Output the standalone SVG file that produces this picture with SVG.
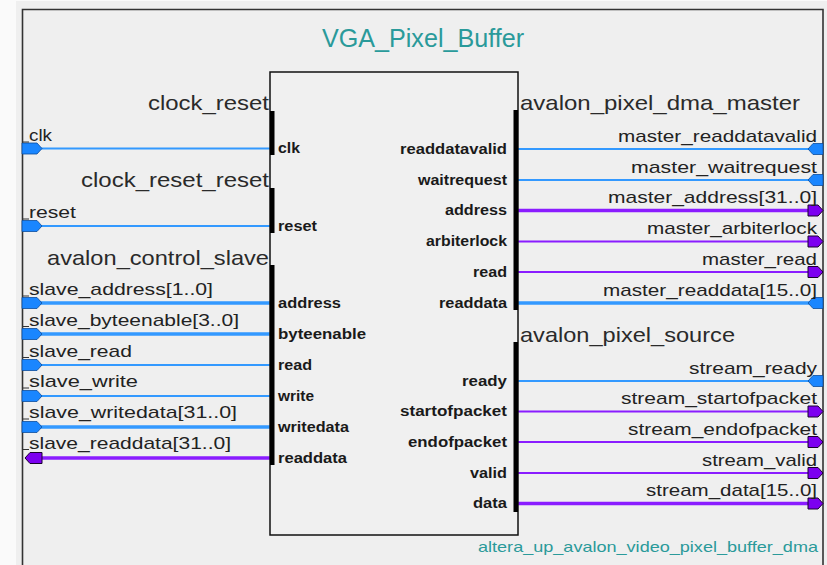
<svg xmlns="http://www.w3.org/2000/svg" width="827" height="565" viewBox="0 0 827 565">
<style>
.hdr{font-family:"Liberation Sans",Arial,sans-serif;font-size:21px;fill:#2a2a2a}
.sig{font-family:"Liberation Sans",Arial,sans-serif;font-size:17px;fill:#222}
.inl{font-family:"Liberation Sans",Arial,sans-serif;font-size:14.5px;font-weight:bold;fill:#1a1a1a}
.teal{font-family:"Liberation Sans",Arial,sans-serif;fill:#2a9a9a}
.wb{stroke:#3399ff;stroke-width:2;fill:none}
.wbb{stroke:#3399ff;stroke-width:3.5;fill:none}
.wp{stroke:#8a1cff;stroke-width:2;fill:none}
.wpb{stroke:#8a1cff;stroke-width:3.5;fill:none}
.mb{fill:#1a86ff;stroke:#0b4c9c;stroke-width:0.8}
.mp{fill:#7c00f0;stroke:#1a0030;stroke-width:1}
.bar{fill:#000}
.tick{stroke:#333;stroke-width:1}
</style>
<defs>
<path id="lin" d="M22,-5.5 H37 L42,0 L37,5.5 H22 Z"/>
<path id="lout" d="M42,-5.5 H30 L25,0 L30,5.5 H42 Z"/>
<path id="rin" d="M823,-5.5 H813 L808,0 L813,5.5 H823 Z"/>
<path id="rout" d="M808,-5.5 H818 L823,0 L818,5.5 H808 Z"/>
</defs>
<rect x="0" y="0" width="827" height="565" fill="#fafafa"/>
<rect x="16" y="1" width="811" height="564" fill="#efefef"/>
<path d="M22.5,566 V9.5 H823 V566" fill="none" stroke="#333" stroke-width="1.6"/>

<g id="title">
<text class="teal" x="423" y="47" font-size="25" text-anchor="middle" textLength="202" lengthAdjust="spacingAndGlyphs">VGA_Pixel_Buffer</text>
<text class="teal" x="818" y="552" font-size="15" text-anchor="end" textLength="340" lengthAdjust="spacingAndGlyphs">altera_up_avalon_video_pixel_buffer_dma</text>
</g>

<g id="connectors">
<line class="wb" x1="40" y1="148.5" x2="270" y2="148.5"/>
<line class="wb" x1="40" y1="226" x2="270" y2="226"/>
<line class="wbb" x1="40" y1="303" x2="270" y2="303"/>
<line class="wbb" x1="40" y1="334" x2="270" y2="334"/>
<line class="wb" x1="40" y1="365" x2="270" y2="365"/>
<line class="wb" x1="40" y1="396" x2="270" y2="396"/>
<line class="wbb" x1="40" y1="427" x2="270" y2="427"/>
<line class="wpb" x1="40" y1="458" x2="270" y2="458"/>
<line class="wb" x1="518" y1="149" x2="810" y2="149"/>
<line class="wb" x1="518" y1="180" x2="810" y2="180"/>
<line class="wpb" x1="518" y1="210.5" x2="810" y2="210.5"/>
<line class="wp" x1="518" y1="241.5" x2="810" y2="241.5"/>
<line class="wp" x1="518" y1="272" x2="810" y2="272"/>
<line class="wbb" x1="518" y1="303" x2="810" y2="303"/>
<line class="wb" x1="518" y1="381" x2="810" y2="381"/>
<line class="wp" x1="518" y1="411.5" x2="810" y2="411.5"/>
<line class="wp" x1="518" y1="442" x2="810" y2="442"/>
<line class="wp" x1="518" y1="473" x2="810" y2="473"/>
<line class="wpb" x1="518" y1="503.5" x2="810" y2="503.5"/>
</g>

<g id="ports">
<use href="#lin" class="mb" transform="translate(0,148.5)"/>
<use href="#lin" class="mb" transform="translate(0,226)"/>
<use href="#lin" class="mb" transform="translate(0,303)"/>
<use href="#lin" class="mb" transform="translate(0,334)"/>
<use href="#lin" class="mb" transform="translate(0,365)"/>
<use href="#lin" class="mb" transform="translate(0,396)"/>
<use href="#lin" class="mb" transform="translate(0,427)"/>
<use href="#lout" class="mp" transform="translate(0,458)"/>
<use href="#rin" class="mb" transform="translate(0,149)"/>
<use href="#rin" class="mb" transform="translate(0,180)"/>
<use href="#rout" class="mp" transform="translate(0,210.5)"/>
<use href="#rout" class="mp" transform="translate(0,241.5)"/>
<use href="#rout" class="mp" transform="translate(0,272)"/>
<use href="#rin" class="mb" transform="translate(0,303)"/>
<use href="#rin" class="mb" transform="translate(0,381)"/>
<use href="#rout" class="mp" transform="translate(0,411.5)"/>
<use href="#rout" class="mp" transform="translate(0,442)"/>
<use href="#rout" class="mp" transform="translate(0,473)"/>
<use href="#rout" class="mp" transform="translate(0,503.5)"/>
<g class="tick">
<line x1="22" y1="142" x2="29" y2="142"/>
<line x1="22" y1="219" x2="29" y2="219"/>
<line x1="22" y1="296" x2="29" y2="296"/>
<line x1="22" y1="326.5" x2="29" y2="326.5"/>
<line x1="22" y1="357.5" x2="29" y2="357.5"/>
<line x1="22" y1="388" x2="29" y2="388"/>
<line x1="22" y1="419" x2="29" y2="419"/>
<line x1="22" y1="449.5" x2="29" y2="449.5"/>
</g>
<g class="sig">
<text x="29" y="141" textLength="23" lengthAdjust="spacingAndGlyphs">clk</text>
<text x="29" y="218" textLength="47" lengthAdjust="spacingAndGlyphs">reset</text>
<text x="29" y="295" textLength="184" lengthAdjust="spacingAndGlyphs">slave_address[1..0]</text>
<text x="29" y="325.5" textLength="210" lengthAdjust="spacingAndGlyphs">slave_byteenable[3..0]</text>
<text x="29" y="356.5" textLength="103" lengthAdjust="spacingAndGlyphs">slave_read</text>
<text x="29" y="387" textLength="109" lengthAdjust="spacingAndGlyphs">slave_write</text>
<text x="29" y="418" textLength="208" lengthAdjust="spacingAndGlyphs">slave_writedata[31..0]</text>
<text x="29" y="448.5" textLength="202" lengthAdjust="spacingAndGlyphs">slave_readdata[31..0]</text>
</g>
<g class="sig" text-anchor="end">
<text x="817" y="141.5" textLength="199" lengthAdjust="spacingAndGlyphs">master_readdatavalid</text>
<text x="817" y="172.5" textLength="186" lengthAdjust="spacingAndGlyphs">master_waitrequest</text>
<text x="817" y="203" textLength="209" lengthAdjust="spacingAndGlyphs">master_address[31..0]</text>
<text x="817" y="234" textLength="170" lengthAdjust="spacingAndGlyphs">master_arbiterlock</text>
<text x="817" y="265" textLength="115" lengthAdjust="spacingAndGlyphs">master_read</text>
<text x="817" y="296" textLength="214" lengthAdjust="spacingAndGlyphs">master_readdata[15..0]</text>
<text x="817" y="373.5" textLength="128" lengthAdjust="spacingAndGlyphs">stream_ready</text>
<text x="817" y="404" textLength="196" lengthAdjust="spacingAndGlyphs">stream_startofpacket</text>
<text x="817" y="434.5" textLength="189" lengthAdjust="spacingAndGlyphs">stream_endofpacket</text>
<text x="817" y="465.5" textLength="115" lengthAdjust="spacingAndGlyphs">stream_valid</text>
<text x="817" y="496" textLength="171" lengthAdjust="spacingAndGlyphs">stream_data[15..0]</text>
</g>
</g>

<g id="VGA_Pixel_Buffer">
<rect x="270" y="72" width="248" height="463" fill="#f0f0f0" stroke="#111" stroke-width="1.5"/>
</g>

<g id="clock_reset">
<rect class="bar" x="270" y="111" width="4.5" height="44"/>
<text class="hdr" x="269" y="110" text-anchor="end" textLength="121" lengthAdjust="spacingAndGlyphs">clock_reset</text>
<text class="inl" x="278" y="153" textLength="22" lengthAdjust="spacingAndGlyphs">clk</text>
</g>

<g id="clock_reset_reset">
<rect class="bar" x="270" y="188" width="4.5" height="45"/>
<text class="hdr" x="269" y="187" text-anchor="end" textLength="188" lengthAdjust="spacingAndGlyphs">clock_reset_reset</text>
<text class="inl" x="278" y="230.5" textLength="39" lengthAdjust="spacingAndGlyphs">reset</text>
</g>

<g id="avalon_control_slave">
<rect class="bar" x="270" y="265" width="4.5" height="200"/>
<text class="hdr" x="269" y="265" text-anchor="end" textLength="222" lengthAdjust="spacingAndGlyphs">avalon_control_slave</text>
<g class="inl">
<text x="278" y="307.5" textLength="63" lengthAdjust="spacingAndGlyphs">address</text>
<text x="278" y="338.5" textLength="88" lengthAdjust="spacingAndGlyphs">byteenable</text>
<text x="278" y="369.5" textLength="34" lengthAdjust="spacingAndGlyphs">read</text>
<text x="278" y="400.5" textLength="36" lengthAdjust="spacingAndGlyphs">write</text>
<text x="278" y="431.5" textLength="71" lengthAdjust="spacingAndGlyphs">writedata</text>
<text x="278" y="462.5" textLength="69" lengthAdjust="spacingAndGlyphs">readdata</text>
</g>
</g>

<g id="avalon_pixel_dma_master">
<rect class="bar" x="513.5" y="110" width="4.5" height="200"/>
<text class="hdr" x="520" y="110" textLength="280" lengthAdjust="spacingAndGlyphs">avalon_pixel_dma_master</text>
<g class="inl" text-anchor="end">
<text x="507" y="153.5" textLength="107" lengthAdjust="spacingAndGlyphs">readdatavalid</text>
<text x="507" y="184.5" textLength="89" lengthAdjust="spacingAndGlyphs">waitrequest</text>
<text x="507" y="215" textLength="62" lengthAdjust="spacingAndGlyphs">address</text>
<text x="507" y="246" textLength="81" lengthAdjust="spacingAndGlyphs">arbiterlock</text>
<text x="507" y="276.5" textLength="34" lengthAdjust="spacingAndGlyphs">read</text>
<text x="507" y="307.5" textLength="68" lengthAdjust="spacingAndGlyphs">readdata</text>
</g>
</g>

<g id="avalon_pixel_source">
<rect class="bar" x="513.5" y="342" width="4.5" height="170"/>
<text class="hdr" x="520" y="342" textLength="215" lengthAdjust="spacingAndGlyphs">avalon_pixel_source</text>
<g class="inl" text-anchor="end">
<text x="507" y="385.5" textLength="45" lengthAdjust="spacingAndGlyphs">ready</text>
<text x="507" y="416" textLength="107" lengthAdjust="spacingAndGlyphs">startofpacket</text>
<text x="507" y="446.5" textLength="99" lengthAdjust="spacingAndGlyphs">endofpacket</text>
<text x="507" y="477.5" textLength="37" lengthAdjust="spacingAndGlyphs">valid</text>
<text x="507" y="508" textLength="34" lengthAdjust="spacingAndGlyphs">data</text>
</g>
</g>
</svg>
